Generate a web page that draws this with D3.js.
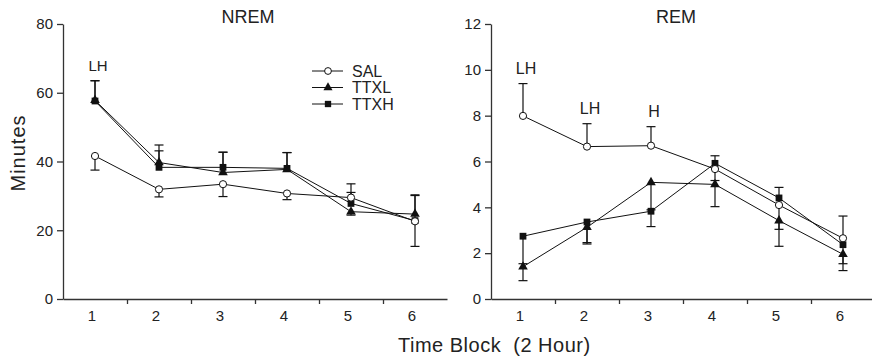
<!DOCTYPE html>
<html>
<head>
<meta charset="utf-8">
<script src="https://cdn.jsdelivr.net/npm/d3@7"></script>
<style>
  body { margin: 0; background: #fff; }
  svg text { font-family: "Liberation Sans", Arial, Helvetica, sans-serif; fill: #222; }
</style>
</head>
<body>
<svg id="chart" width="872" height="360"></svg>
<script>
// Time blocks (2 hour)
const blocks = [1, 2, 3, 4, 5, 6];

// NREM minutes (mean) and signed SEM (+ drawn up, - drawn down)
const nremSal = [41.6, 31.9, 33.4, 30.7, 29.5, 22.6];
const nremSalErr = [-4.1, -2.2, -3.6, -1.8, 4.0, 7.5];
const nremTtxl = [57.8, 39.7, 36.8, 37.7, 25.4, 24.7];
const nremTtxlErr = [5.7, 5.1, 5.9, 4.9, -1.0, 5.6];
const nremTtxh = [57.6, 38.3, 38.3, 38.0, 27.8, 22.8];
const nremTtxhErr = [5.9, 4.8, 4.4, 4.6, 3.2, -7.5];

// REM minutes
const remSal = [7.99, 6.65, 6.69, 5.67, 4.1, 2.65];
const remSalErr = [1.41, 1.0, 0.83, -0.5, -1.06, 0.97];
const remTtxl = [1.41, 3.13, 5.09, 5.0, 3.42, 1.95];
const remTtxlErr = [-0.61, -0.73, -1.2, -0.97, -1.12, -0.71];
const remTtxh = [2.74, 3.36, 3.83, 5.92, 4.41, 2.37];
const remTtxhErr = [-1.2, -0.9, -0.67, 0.33, 0.46, -0.83];

// significance labels (block index -> text)
const nremMarks = [{ block: 1, label: 'LH' }];
const remMarks = [{ block: 1, label: 'LH' }, { block: 2, label: 'LH' }, { block: 3, label: 'H' }];

const seriesNames = ['SAL', 'TTXL', 'TTXH'];
const nremYTicks = [0, 20, 40, 60, 80];
const remYTicks = [0, 2, 4, 6, 8, 10, 12];

const svg = d3.select('#chart');
const plotTop = 24, plotBottom = 299;

function drawPanel(opts) {
    const g = svg.append('g');
    const x = d3.scaleLinear().domain([0.5, 6.5]).range([opts.left, opts.left + 384]);
    const y = d3.scaleLinear().domain([0, opts.yMax]).range([plotBottom, plotTop]);

    // axes
    const yAxis = g.append('g')
        .attr('transform', `translate(${opts.left},0)`)
        .call(d3.axisLeft(y).tickValues(opts.yTicks).tickSize(6).tickPadding(4).tickSizeOuter(0));
    yAxis.selectAll('text').style('font-size', '15px');

    g.append('g')
        .attr('transform', `translate(0,${plotBottom})`)
        .call(d3.axisBottom(x).tickValues([1.5, 2.5, 3.5, 4.5, 5.5]).tickSize(5).tickFormat('').tickSizeOuter(0));
    const xLabels = g.append('g')
        .attr('transform', `translate(0,${plotBottom})`)
        .call(d3.axisBottom(x).tickValues(blocks).tickFormat(d3.format('d')).tickSize(0).tickPadding(11.5));
    xLabels.select('.domain').remove();
    xLabels.selectAll('text').style('font-size', '15px').attr('dx', -3.5);

    g.selectAll('.domain, .tick line').attr('stroke', '#333').attr('stroke-width', 1.3);

    // title
    g.append('text')
        .attr('x', opts.left + 185)
        .attr('y', 23)
        .attr('text-anchor', 'middle')
        .style('font-size', '18px')
        .text(opts.title);

    const series = [
        { name: 'TTXL', vals: opts.ttxl, err: opts.ttxlErr, sym: d3.symbolTriangle, size: 40, fill: '#111' },
        { name: 'TTXH', vals: opts.ttxh, err: opts.ttxhErr, sym: d3.symbolSquare, size: 46, fill: '#111' },
        { name: 'SAL', vals: opts.sal, err: opts.salErr, sym: null, fill: '#fff' }
    ];

    // error bars
    series.forEach(s => {
        const eb = g.append('g');
        blocks.forEach((b, i) => {
            const y0 = y(s.vals[i]);
            const y1 = y(s.vals[i] + s.err[i]);
            eb.append('line')
                .attr('x1', x(b)).attr('x2', x(b))
                .attr('y1', y0).attr('y2', y1)
                .attr('stroke', '#111').attr('stroke-width', 1.2);
            eb.append('line')
                .attr('x1', x(b) - 4.5).attr('x2', x(b) + 4.5)
                .attr('y1', y1).attr('y2', y1)
                .attr('stroke', '#111').attr('stroke-width', 1.2);
        });
    });

    // lines and markers
    const line = d3.line().x((d, i) => x(blocks[i])).y(d => y(d));
    series.forEach(s => {
        g.append('path')
            .datum(s.vals)
            .attr('fill', 'none')
            .attr('stroke', '#111')
            .attr('stroke-width', 1)
            .attr('d', line);
        const pts = g.selectAll(null).data(s.vals).enter();
        if (s.sym) {
            pts.append('path')
                .attr('transform', (d, i) => `translate(${x(blocks[i])},${y(d)})`)
                .attr('d', d3.symbol().type(s.sym).size(s.size))
                .attr('fill', s.fill);
        } else {
            pts.append('circle')
                .attr('cx', (d, i) => x(blocks[i]))
                .attr('cy', d => y(d))
                .attr('r', 3.6)
                .attr('fill', '#fff')
                .attr('stroke', '#111')
                .attr('stroke-width', 1);
        }
    });

    // significance labels above highest error bar
    opts.marks.forEach(m => {
        const i = m.block - 1;
        const tops = series.map(s => s.vals[i] + Math.max(0, s.err[i]));
        g.append('text')
            .attr('x', x(m.block) + 3)
            .attr('y', y(d3.max(tops)) - 10)
            .attr('text-anchor', 'middle')
            .style('font-size', opts.markSize)
            .text(m.label);
    });
}

drawPanel({
    left: 63, yMax: 80, yTicks: nremYTicks, title: 'NREM',
    sal: nremSal, salErr: nremSalErr, ttxl: nremTtxl, ttxlErr: nremTtxlErr,
    ttxh: nremTtxh, ttxhErr: nremTtxhErr, marks: nremMarks, markSize: '15px'
});
drawPanel({
    left: 491, yMax: 12, yTicks: remYTicks, title: 'REM',
    sal: remSal, salErr: remSalErr, ttxl: remTtxl, ttxlErr: remTtxlErr,
    ttxh: remTtxh, ttxhErr: remTtxhErr, marks: remMarks, markSize: '16px'
});

// legend
const legend = svg.append('g');
const legendSyms = [null, d3.symbolTriangle, d3.symbolSquare];
seriesNames.forEach((name, i) => {
    const ly = 71 + i * 16.5;
    legend.append('line')
        .attr('x1', 312).attr('x2', 343)
        .attr('y1', ly).attr('y2', ly)
        .attr('stroke', '#111').attr('stroke-width', 1);
    if (legendSyms[i]) {
        legend.append('path')
            .attr('transform', `translate(328,${ly})`)
            .attr('d', d3.symbol().type(legendSyms[i]).size(i === 1 ? 36 : 40))
            .attr('fill', '#111');
    } else {
        legend.append('circle')
            .attr('cx', 328).attr('cy', ly).attr('r', 3.4)
            .attr('fill', '#fff').attr('stroke', '#111');
    }
    legend.append('text')
        .attr('x', 352).attr('y', ly + 5.5)
        .style('font-size', '16px')
        .text(name);
});

// axis titles
svg.append('text')
    .attr('transform', 'translate(25,153) rotate(-90)')
    .attr('text-anchor', 'middle')
    .style('font-size', '20px')
    .style('letter-spacing', '1px')
    .text('Minutes');

svg.append('text')
    .attr('x', 398)
    .attr('y', 352)
    .attr('text-anchor', 'start')
    .style('font-size', '20px')
    .style('letter-spacing', '0.5px')
    .style('white-space', 'pre')
    .text('Time Block  (2 Hour)');
</script>
</body>
</html>
